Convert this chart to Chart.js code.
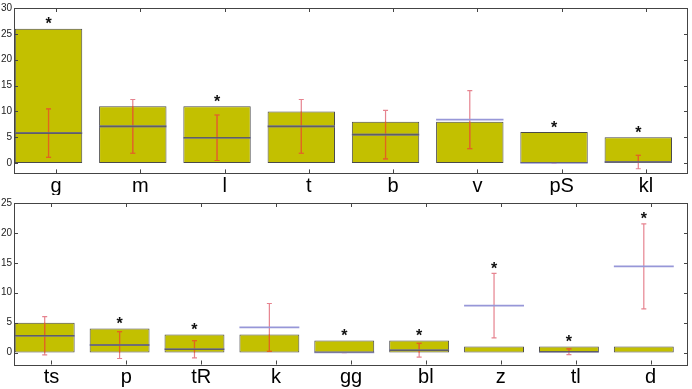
<!DOCTYPE html>
<html>
<head>
<meta charset="utf-8">
<script src="https://cdn.jsdelivr.net/npm/chart.js@4/dist/chart.umd.min.js"></script>
<style>
  html, body { margin: 0; padding: 0; background: #fff; }
  #wrap { position: relative; width: 692px; height: 389px; }
  canvas { position: absolute; left: 0; }
  #topChart { top: 0; }
  #botChart { top: 195px; }
</style>
</head>
<body>
<div id="wrap">
  <canvas id="topChart" width="692" height="195"></canvas>
  <canvas id="botChart" width="692" height="194"></canvas>
</div>
<script>
// top panel
const topCats   = ['g', 'm', 'l', 't', 'b', 'v', 'pS', 'kl'];
const topCounts = [26, 11, 11, 10, 8, 8, 6, 5];
const topMeans  = [5.8, 7.1, 4.9, 7.1, 5.5, 8.4, 0, 0.2];
const topErrs   = [4.7, 5.2, 4.4, 5.2, 4.7, 5.6, 0, 1.3];
const topSig    = [1, 0, 1, 0, 0, 0, 1, 1];
const topTicks  = [0, 5, 10, 15, 20, 25, 30];

// bottom panel
const botCats   = ['ts', 'p', 'tR', 'k', 'gg', 'bl', 'z', 'tl', 'd'];
const botCounts = [5, 4, 3, 3, 2, 2, 1, 1, 1];
const botMeans  = [2.8, 1.25, 0.55, 4.2, 0, 0.38, 7.85, 0.13, 14.4];
const botErrs   = [3.2, 2.25, 1.45, 4.0, 0, 1.15, 5.4, 0.47, 7.1];
const botSig    = [0, 1, 1, 0, 1, 1, 1, 1, 1];
const botTicks  = [0, 5, 10, 15, 20, 25];

const barShift = 0.09; // bars sit a little left of their tick

// draws a path twice: light colour outside the bar, darker inside it
function twoTone(ctx, rect, pathFn, outColor, inColor, lw) {
    ctx.lineWidth = lw;
    ctx.strokeStyle = outColor;
    ctx.beginPath(); pathFn(); ctx.stroke();
    ctx.save();
    ctx.beginPath();
    ctx.rect(rect.x, rect.y, rect.w, rect.h);
    ctx.clip();
    ctx.strokeStyle = inColor;
    ctx.beginPath(); pathFn(); ctx.stroke();
    ctx.restore();
}

// mean line, error bar and star on top of each bar
const overlayPlugin = {
    id: 'overlay',
    afterDatasetsDraw(chart, args, opts) {
        const ctx = chart.ctx;
        const meta = chart.getDatasetMeta(0);
        const yS = chart.scales.y;
        ctx.save();
        meta.data.forEach((bar, i) => {
            const x = bar.x, w = bar.width;
            const rect = { x: x - w / 2, y: bar.y, w: w, h: bar.base - bar.y };
            const m = opts.means[i], e = opts.errs[i];
            // error bar
            const y1 = yS.getPixelForValue(m + e);
            const y2 = yS.getPixelForValue(m - e);
            twoTone(ctx, rect, () => {
                ctx.moveTo(x, y1); ctx.lineTo(x, y2);
                ctx.moveTo(x - 2.5, y1); ctx.lineTo(x + 2.5, y1);
                ctx.moveTo(x - 2.5, y2); ctx.lineTo(x + 2.5, y2);
            }, 'rgba(222, 90, 105, 0.75)', '#e2661a', 1.2);
            // mean
            const ym = yS.getPixelForValue(m);
            twoTone(ctx, rect, () => {
                ctx.moveTo(x - w / 2, ym);
                ctx.lineTo(x + w / 2, ym);
            }, '#9797d8', '#5e5e66', 1.6);
            // significance star
            if (opts.sig[i]) {
                const top = Math.max(opts.counts[i], m + e);
                const cy = yS.getPixelForValue(top) - 8;
                ctx.font = 'bold 16px "Liberation Sans", Arial, sans-serif';
                ctx.fillStyle = '#111';
                ctx.textAlign = 'center';
                ctx.textBaseline = 'alphabetic';
                const mt = ctx.measureText('*');
                const by = cy + (mt.actualBoundingBoxAscent - mt.actualBoundingBoxDescent) / 2;
                ctx.fillText('*', x, by);
            }
        });
        ctx.restore();
    }
};

// box with inward ticks
const boxPlugin = {
    id: 'box',
    afterDraw(chart) {
        const ctx = chart.ctx;
        const a = chart.chartArea;
        const xS = chart.scales.x, yS = chart.scales.y;
        ctx.save();
        ctx.strokeStyle = '#444';
        ctx.lineWidth = 1;
        ctx.strokeRect(Math.round(a.left) + 0.5, Math.round(a.top) + 0.5,
                       Math.round(a.right - a.left) - 1, Math.round(a.bottom - a.top));
        ctx.beginPath();
        xS.ticks.forEach(t => {
            const px = Math.round(xS.getPixelForValue(t.value)) + 0.5;
            ctx.moveTo(px, a.bottom); ctx.lineTo(px, a.bottom - 4);
            ctx.moveTo(px, a.top); ctx.lineTo(px, a.top + 4);
        });
        yS.ticks.forEach(t => {
            const py = Math.round(yS.getPixelForValue(t.value)) + 0.5;
            ctx.moveTo(a.left, py); ctx.lineTo(a.left + 4, py);
            ctx.moveTo(a.right, py); ctx.lineTo(a.right - 4, py);
        });
        ctx.stroke();
        ctx.restore();
    }
};

function makeChart(id, cats, counts, means, errs, sig, yTicks, yMax, padTop, xHeight) {
    const ctx = document.getElementById(id).getContext('2d');
    return new Chart(ctx, {
        type: 'bar',
        data: {
            datasets: [{
                data: counts.map((v, i) => ({ x: i - barShift, y: v })),
                backgroundColor: '#c3c000',
                borderColor: '#4a4a4a',
                borderWidth: 1,
                borderSkipped: false,
                barPercentage: 0.8,
                categoryPercentage: 1.0
            }]
        },
        options: {
            responsive: false,
            animation: false,
            layout: { padding: { top: padTop, right: 4, left: 0, bottom: 0 } },
            plugins: {
                legend: { display: false },
                tooltip: { enabled: false },
                overlay: { means: means, errs: errs, sig: sig, counts: counts }
            },
            scales: {
                x: {
                    type: 'linear',
                    min: -0.5,
                    max: cats.length - 0.5,
                    offset: false,
                    grid: { display: false, drawTicks: false },
                    border: { display: false },
                    afterBuildTicks: s => { s.ticks = cats.map((c, i) => ({ value: i })); },
                    afterFit: s => { s.height = xHeight; },
                    ticks: {
                        autoSkip: false,
                        maxRotation: 0,
                        padding: 1,
                        color: '#000',
                        font: { family: '"Liberation Sans", Arial, sans-serif', size: 20 },
                        callback: v => cats[v]
                    }
                },
                y: {
                    min: -2,
                    max: yMax,
                    grid: { display: false, drawTicks: false },
                    border: { display: false },
                    afterBuildTicks: s => { s.ticks = yTicks.map(v => ({ value: v })); },
                    afterFit: s => { s.width = 14; },
                    ticks: {
                        padding: 2,
                        color: '#222',
                        font: { family: '"Liberation Sans", Arial, sans-serif', size: 10 }
                    }
                }
            }
        },
        plugins: [overlayPlugin, boxPlugin]
    });
}

makeChart('topChart', topCats, topCounts, topMeans, topErrs, topSig, topTicks, 30, 7, 21.6);
makeChart('botChart', botCats, botCounts, botMeans, botErrs, botSig, botTicks, 25, 5, 24.5);
</script>
</body>
</html>
